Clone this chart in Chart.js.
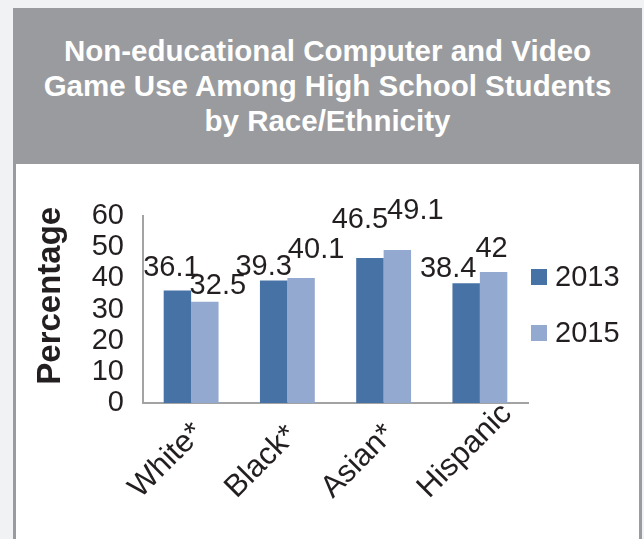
<!DOCTYPE html>
<html>
<head>
<meta charset="utf-8">
<title>Game Use by Race/Ethnicity</title>
<script src="https://cdn.jsdelivr.net/npm/chart.js@4.4.1/dist/chart.umd.min.js"></script>
<style>
  html, body { margin: 0; overflow: hidden; }
  body { background: #f1f2f4; font-family: "Liberation Sans", Arial, sans-serif; }
  .card { position: absolute; left: 13px; top: 8px; width: 629px; height: 540px; background: #9a9b9e; }
  .card h1 {
    margin: 0; padding-top: 25px; color: #fff; font-size: 29.5px; line-height: 35px;
    font-weight: bold; text-align: center; white-space: nowrap;
  }
  .panel { position: absolute; left: 3px; right: 3px; top: 156px; bottom: 0; background: #fff; }
  .chart-box { position: absolute; left: 0; top: 0; width: 623px; height: 375px; }
</style>
</head>
<body>
<div class="card">
  <h1>Non-educational Computer and Video<br>Game Use Among High School Students<br>by Race/Ethnicity</h1>
  <div class="panel">
    <div class="chart-box"><canvas id="gameUse"></canvas></div>
  </div>
</div>

<script>
// datos
const categories = ['White*', 'Black*', 'Asian*', 'Hispanic'];
const seriesNames = ['2013', '2015'];
const values2013 = [36.1, 39.3, 46.5, 38.4];
const values2015 = [32.5, 40.1, 49.1, 42];
const yTicks = [0, 10, 20, 30, 40, 50, 60];

// desplazamiento de cada etiqueta: [dx, distancia sobre la barra]
const labelShift2013 = [[-6, 14], [-10, 6], [-10, 30], [-18, 6]];
const labelShift2015 = [[13, 8], [15, 20], [18, 31], [-2, 15]];

const FONT = '"Liberation Sans", Arial, sans-serif';
const TEXT = '#231f20';
const AXIS = '#a3a3a3';
const colors = ['#4672a6', '#94a9d0'];

// etiquetas de valor encima de cada barra
const valueLabels = {
  id: 'valueLabels',
  afterDatasetsDraw(chart) {
    const ctx = chart.ctx;
    ctx.save();
    ctx.font = '29px ' + FONT;
    ctx.fillStyle = TEXT;
    ctx.textAlign = 'center';
    ctx.textBaseline = 'alphabetic';
    chart.data.datasets.forEach((ds, d) => {
      const shifts = d === 0 ? labelShift2013 : labelShift2015;
      chart.getDatasetMeta(d).data.forEach((bar, i) => {
        const [dx, gap] = shifts[i];
        ctx.fillText(String(ds.data[i]), bar.x + dx, bar.y - gap);
      });
    });
    ctx.restore();
  }
};

// categorias giradas 45 grados, ancladas por el inicio del texto
const categoryLabels = {
  id: 'categoryLabels',
  afterDraw(chart) {
    const ctx = chart.ctx;
    const xs = chart.scales.x;
    ctx.save();
    ctx.font = '31px ' + FONT;
    ctx.fillStyle = TEXT;
    ctx.textAlign = 'left';
    ctx.textBaseline = 'alphabetic';
    chart.data.labels.forEach((label, i) => {
      ctx.save();
      ctx.translate(xs.getPixelForTick(i) - 51, xs.top + 96);
      ctx.rotate(-Math.PI / 4);
      ctx.fillText(label, 0, 0);
      ctx.restore();
    });
    ctx.restore();
  }
};

// leyenda a la derecha del area del grafico
const sideLegend = {
  id: 'sideLegend',
  afterDraw(chart) {
    const ctx = chart.ctx;
    const area = chart.chartArea;
    ctx.save();
    ctx.font = '29px ' + FONT;
    ctx.textBaseline = 'middle';
    ctx.textAlign = 'left';
    chart.data.datasets.forEach((ds, i) => {
      const x = area.right + 3;
      const y = area.top + 53 + i * 56;
      ctx.fillStyle = ds.backgroundColor;
      ctx.fillRect(x, y, 16, 16);
      ctx.fillStyle = TEXT;
      ctx.fillText(ds.label, x + 24, y + 9);
    });
    ctx.restore();
  }
};

new Chart(document.getElementById('gameUse'), {
  type: 'bar',
  data: {
    labels: categories,
    datasets: [
      { label: seriesNames[0], data: values2013, backgroundColor: colors[0] },
      { label: seriesNames[1], data: values2015, backgroundColor: colors[1] }
    ]
  },
  options: {
    responsive: true,
    maintainAspectRatio: false,
    animation: false,
    layout: { padding: { top: 52, right: 111, left: 0, bottom: 0 } },
    datasets: { bar: { categoryPercentage: 0.57, barPercentage: 1.0 } },
    plugins: {
      legend: { display: false },
      tooltip: { enabled: false }
    },
    scales: {
      x: {
        grid: { display: false },
        border: { display: true, color: AXIS, width: 2 },
        ticks: { display: false },
        afterFit: s => { s.height = 136; }
      },
      y: {
        min: yTicks[0],
        max: yTicks[yTicks.length - 1],
        grid: { display: false, drawTicks: false },
        border: { display: true, color: AXIS, width: 2 },
        ticks: {
          stepSize: yTicks[1] - yTicks[0],
          autoSkip: false,
          color: TEXT,
          font: { family: FONT, size: 29 },
          padding: 19
        },
        title: {
          display: true,
          // los espacios iniciales suben un poco el titulo
          text: '   Percentage',
          color: TEXT,
          font: { family: FONT, size: 33, weight: 'bold' },
          padding: { top: 15, bottom: 0 }
        },
        afterFit: s => { s.width = 127; }
      }
    }
  },
  plugins: [valueLabels, categoryLabels, sideLegend]
});
</script>
</body>
</html>
